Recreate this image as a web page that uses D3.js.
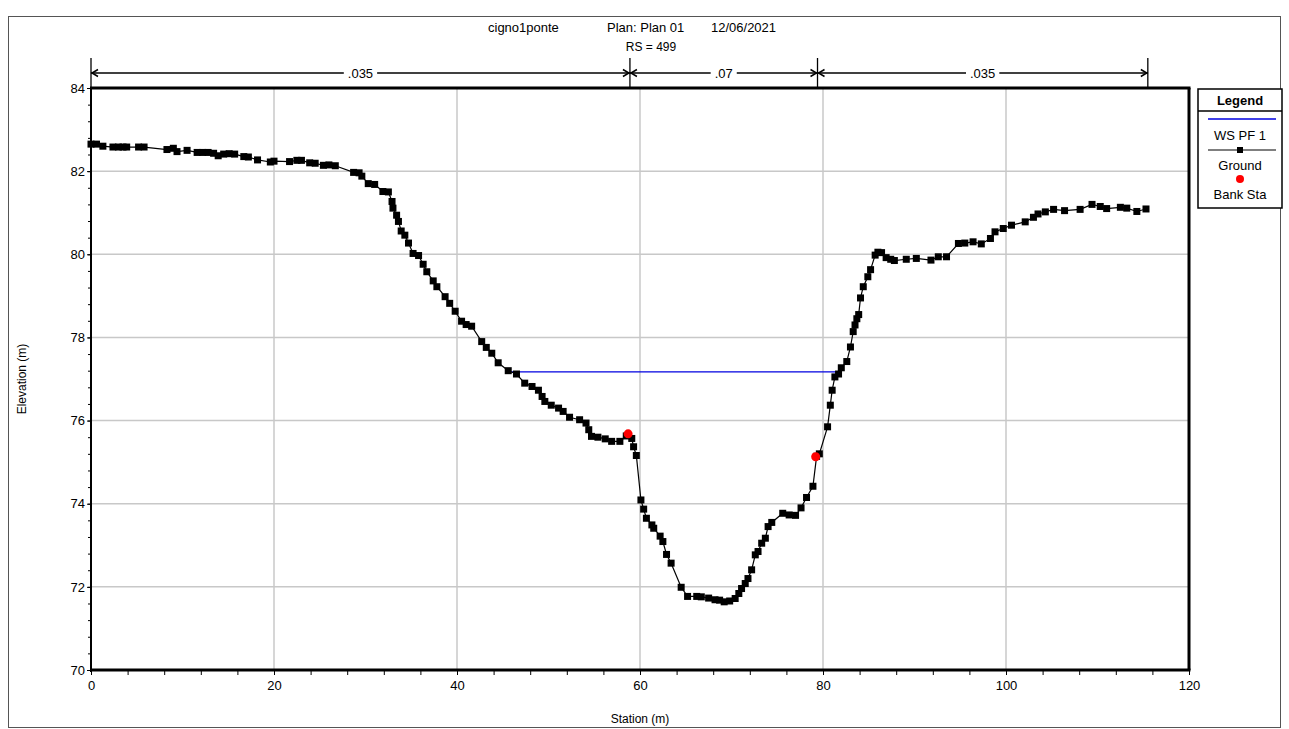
<!DOCTYPE html>
<html><head><meta charset="utf-8">
<script src="https://cdn.jsdelivr.net/npm/d3@7"></script>
<style>body{margin:0;background:#fff}svg{display:block;font-family:"Liberation Sans",Arial,sans-serif}</style>
</head><body><svg id="c" width="1289" height="729"></svg>
<script>
// ---- data ----
const groundStation = [0.0,0.6,1.3,2.4,3.0,3.5,3.9,5.2,5.8,8.3,9.0,9.4,10.5,11.6,12.2,12.8,13.4,13.9,14.5,15.1,15.7,16.7,17.2,18.2,19.6,20.0,21.7,22.5,23.0,23.9,24.5,25.4,26.0,26.7,28.7,29.3,29.6,30.3,31.0,31.9,32.5,32.9,33.0,33.4,33.6,33.9,34.3,34.7,35.2,35.8,36.3,36.7,37.4,37.8,38.7,39.2,39.8,40.5,41.0,41.6,42.7,43.2,43.8,44.5,45.6,46.5,47.4,48.2,48.9,49.3,49.6,50.3,51.1,51.6,52.3,53.4,54.1,54.4,54.7,55.4,56.2,56.9,57.8,58.5,59.1,59.3,59.6,60.1,60.4,60.7,61.3,61.5,62.2,62.5,62.9,63.4,64.5,65.2,66.2,66.7,67.5,68.2,68.7,69.2,69.8,70.4,70.8,71.1,71.5,71.8,72.2,72.6,72.9,73.3,73.7,74.0,74.4,75.6,76.3,77.0,77.6,78.2,78.9,79.3,79.6,80.5,80.8,81.0,81.3,81.7,82.0,82.6,83.0,83.3,83.5,83.7,83.9,84.1,84.4,84.9,85.2,85.7,86.0,86.4,86.9,87.4,87.8,89.1,90.2,91.8,92.6,93.5,94.8,95.5,96.4,97.3,98.3,98.8,99.7,100.6,102.1,103.0,103.5,104.3,105.2,106.4,108.1,109.4,110.3,111.0,112.5,113.2,114.3,115.3];
const groundElev = [82.65,82.65,82.6,82.58,82.58,82.58,82.58,82.58,82.58,82.52,82.55,82.47,82.5,82.45,82.45,82.45,82.43,82.37,82.41,82.42,82.41,82.35,82.34,82.27,82.22,82.24,82.23,82.26,82.26,82.2,82.19,82.14,82.15,82.13,81.97,81.96,81.88,81.7,81.68,81.51,81.5,81.27,81.11,80.94,80.79,80.56,80.46,80.27,80.02,79.97,79.76,79.58,79.36,79.22,78.98,78.82,78.63,78.39,78.31,78.27,77.9,77.76,77.62,77.39,77.2,77.12,76.9,76.82,76.73,76.58,76.46,76.37,76.3,76.22,76.08,76.02,75.94,75.78,75.62,75.6,75.56,75.5,75.5,75.63,75.57,75.37,75.16,74.09,73.87,73.65,73.49,73.41,73.22,73.09,72.78,72.57,71.99,71.77,71.77,71.76,71.73,71.69,71.68,71.64,71.66,71.72,71.84,71.96,72.08,72.2,72.41,72.77,72.85,73.05,73.17,73.45,73.55,73.77,73.73,73.72,73.9,74.15,74.42,75.14,75.2,75.85,76.37,76.73,77.05,77.12,77.27,77.42,77.77,78.14,78.3,78.45,78.55,78.95,79.22,79.46,79.63,79.98,80.05,80.04,79.92,79.88,79.85,79.88,79.9,79.86,79.94,79.94,80.26,80.27,80.3,80.25,80.38,80.54,80.62,80.7,80.78,80.89,80.97,81.02,81.08,81.05,81.08,81.2,81.15,81.1,81.13,81.11,81.03,81.09];
const bankStation = [58.7, 79.2];
const bankElev = [75.68, 75.13];
const wsElevation = 77.17;
const nStations = [0, 58.9, 79.4, 115.5];
const nValues = [".035", ".07", ".035"];
const xTicks = [0,20,40,60,80,100,120];
const yTicks = [70,72,74,76,78,80,82,84];
const titleParts = ["cigno1ponte", "Plan: Plan 01", "12/06/2021"];
const subTitle = "RS = 499";
const legendItems = ["WS PF 1", "Ground", "Bank Sta"];

// ---- layout ----
const svg = d3.select("#c");
const L = 91, R = 1189, T = 88, B = 670;
const x = d3.scaleLinear().domain([0,120]).range([L,R]);
const y = d3.scaleLinear().domain([70,84]).range([B,T]);

// outer frame
svg.append("rect").attr("x",8.5).attr("y",16.5).attr("width",1272).attr("height",711)
  .attr("fill","none").attr("stroke","#555").attr("stroke-width",1);

// grid
const g = svg.append("g");
g.selectAll(".gx").data(xTicks.slice(1,-1)).join("line")
  .attr("x1",d=>x(d)).attr("x2",d=>x(d)).attr("y1",T).attr("y2",B)
  .attr("stroke","#c8c8c8").attr("stroke-width",1.5);
g.selectAll(".gy").data(yTicks.slice(1,-1)).join("line")
  .attr("x1",L).attr("x2",R).attr("y1",d=>y(d)).attr("y2",d=>y(d))
  .attr("stroke","#c8c8c8").attr("stroke-width",1.5);

// axes
const yAxis = d3.axisLeft(y).tickValues(yTicks).tickSize(4).tickFormat(d3.format("d"));
const yMinor = d3.axisLeft(y).tickValues(d3.range(70,84.01,0.4)).tickSize(3).tickFormat("");
const xAxis = d3.axisBottom(x).tickValues(xTicks).tickSize(5).tickFormat(d3.format("d"));
const xMinor = d3.axisBottom(x).tickValues(d3.range(0,120.01,4)).tickSize(5).tickFormat("");
function styleAx(sel){
  sel.select(".domain").remove();
  sel.selectAll("line").attr("stroke","#000").attr("stroke-width",1);
  sel.selectAll("text").attr("font-size",13).attr("fill","#000").attr("font-family","Liberation Sans, Arial, sans-serif");
}
svg.append("g").attr("transform",`translate(${L},0)`).call(yMinor).call(styleAx);
svg.append("g").attr("transform",`translate(${L},0)`).call(yAxis).call(styleAx)
  .selectAll("text").attr("dx",1);
svg.append("g").attr("transform",`translate(0,${B})`).call(xMinor).call(styleAx);
svg.append("g").attr("transform",`translate(0,${B})`).call(xAxis).call(styleAx)
  .selectAll("text").attr("dy","0.9em");

// plot frame
svg.append("line").attr("x1",L).attr("x2",L).attr("y1",T).attr("y2",B+2).attr("stroke","#000").attr("stroke-width",2);
svg.append("line").attr("x1",L-1).attr("x2",R+1.5).attr("y1",T).attr("y2",T).attr("stroke","#000").attr("stroke-width",3);
svg.append("line").attr("x1",R).attr("x2",R).attr("y1",T).attr("y2",B).attr("stroke","#000").attr("stroke-width",3);
svg.append("line").attr("x1",L).attr("x2",R+1.5).attr("y1",B).attr("y2",B).attr("stroke","#000").attr("stroke-width",3);

// water surface: intersections with ground
function crossings(level){
  const pts=[];
  for(let i=1;i<groundStation.length;i++){
    const a=groundElev[i-1], b=groundElev[i];
    if((a-level)*(b-level)<0){
      const t=(level-a)/(b-a);
      pts.push(groundStation[i-1]+t*(groundStation[i]-groundStation[i-1]));
    }
  }
  return pts;
}
const cr = crossings(wsElevation);
svg.append("line").attr("x1",x(cr[0])).attr("x2",x(cr[cr.length-1]))
  .attr("y1",y(wsElevation)).attr("y2",y(wsElevation)).attr("stroke","#0000e0").attr("stroke-width",1.3);

// ground
const gd = groundStation.map((s,i)=>[s,groundElev[i]]);
svg.append("path").datum(gd).attr("d",d3.line().x(d=>x(d[0])).y(d=>y(d[1])))
  .attr("fill","none").attr("stroke","#000").attr("stroke-width",1.2);
svg.selectAll(".gp").data(gd).join("rect")
  .attr("x",d=>x(d[0])-3.5).attr("y",d=>y(d[1])-3.5).attr("width",7).attr("height",7).attr("fill","#000");

// bank stations
svg.selectAll(".bk").data(bankStation).join("circle")
  .attr("cx",d=>x(d)).attr("cy",(d,i)=>y(bankElev[i])).attr("r",4.5).attr("fill","#ff0000");

// manning n bar
const nY = 73;
const nb = svg.append("g").attr("stroke","#000").attr("fill","none");
nStations.forEach(s=>{
  nb.append("line").attr("x1",x(s)).attr("x2",x(s)).attr("y1",58).attr("y2",T).attr("stroke-width",1.3);
});
for(let i=0;i<nValues.length;i++){
  const a=x(nStations[i]), b=x(nStations[i+1]), m=(a+b)/2;
  const t = svg.append("text").attr("x",m).attr("y",nY+4.5).attr("text-anchor","middle")
    .attr("font-size",13).text(nValues[i]);
  const w = t.node().getComputedTextLength();
  nb.append("line").attr("x1",a).attr("x2",m-w/2-4).attr("y1",nY).attr("y2",nY).attr("stroke-width",1.3);
  nb.append("line").attr("x1",m+w/2+4).attr("x2",b).attr("y1",nY).attr("y2",nY).attr("stroke-width",1.3);
  nb.append("path").attr("d",`M${a+7},${nY-3.5}L${a+1},${nY}L${a+7},${nY+3.5}`).attr("stroke-width",1.5);
  nb.append("path").attr("d",`M${b-7},${nY-3.5}L${b-1},${nY}L${b-7},${nY+3.5}`).attr("stroke-width",1.5);
}

// titles
const tx=[488,607,711];
titleParts.forEach((t,i)=>svg.append("text").attr("x",tx[i]).attr("y",32).attr("font-size",13).text(t));
svg.append("text").attr("x",651).attr("y",51).attr("text-anchor","middle").attr("font-size",12).text(subTitle);
svg.append("text").attr("x",640).attr("y",723).attr("text-anchor","middle").attr("font-size",12).text("Station (m)");
svg.append("text").attr("transform","translate(26,379) rotate(-90)").attr("text-anchor","middle").attr("font-size",12).text("Elevation (m)");

// legend
const lg = svg.append("g");
const lx0=1198, lx1=1282, ly0=89, ly1=208;
lg.append("rect").attr("x",lx0).attr("y",ly0).attr("width",lx1-lx0).attr("height",ly1-ly0).attr("fill","#fff").attr("stroke","#000").attr("stroke-width",1.5);
lg.append("line").attr("x1",lx0).attr("x2",lx1).attr("y1",111).attr("y2",111).attr("stroke","#000").attr("stroke-width",1.5);
lg.append("text").attr("x",1240).attr("y",105).attr("text-anchor","middle").attr("font-size",13).attr("font-weight","bold").text("Legend");
lg.append("line").attr("x1",1208).attr("x2",1276).attr("y1",119).attr("y2",119).attr("stroke","#0000e0").attr("stroke-width",1.3);
lg.append("text").attr("x",1240).attr("y",140).attr("text-anchor","middle").attr("font-size",13).text(legendItems[0]);
lg.append("line").attr("x1",1208).attr("x2",1276).attr("y1",150).attr("y2",150).attr("stroke","#000").attr("stroke-width",1.2);
lg.append("rect").attr("x",1237).attr("y",147).attr("width",6).attr("height",6).attr("fill","#000");
lg.append("text").attr("x",1240).attr("y",170).attr("text-anchor","middle").attr("font-size",13).text(legendItems[1]);
lg.append("circle").attr("cx",1240).attr("cy",179).attr("r",4).attr("fill","#ff0000");
lg.append("text").attr("x",1240).attr("y",199).attr("text-anchor","middle").attr("font-size",13).text(legendItems[2]);
</script></body></html>
